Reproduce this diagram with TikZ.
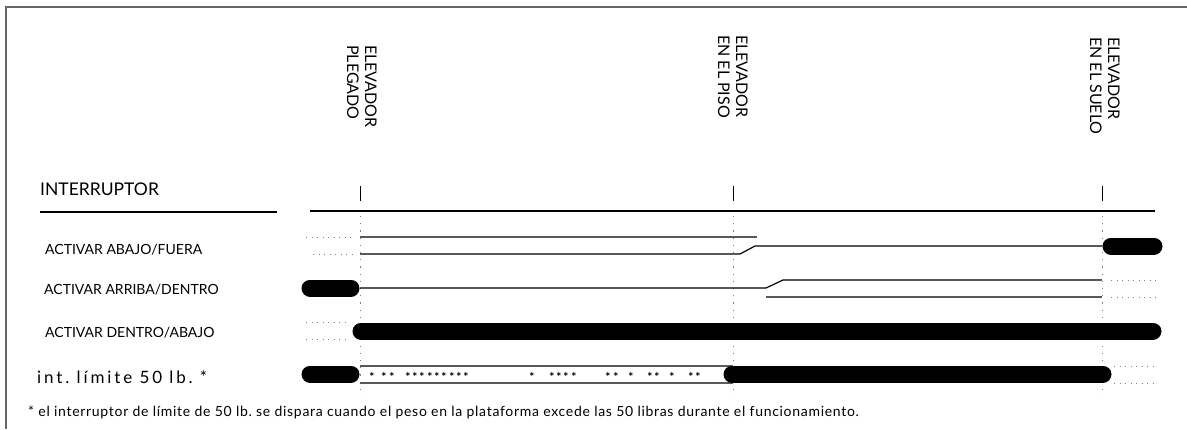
\documentclass[tikz,border=0pt]{standalone}
\usepackage{fontspec}
\setmainfont{Lato}
\frenchspacing
\begin{document}
\begin{tikzpicture}[x=1pt,y=-1pt,
  frame/.style={draw=gray!80!black,line width=2pt},
  lbl/.style={anchor=west,inner sep=0pt,font=\fontsize{14}{16}\selectfont},
  vlbl/.style={anchor=north west,inner sep=0pt,rotate=-90,align=left,font=\fontsize{16}{18}\selectfont},
  bar/.style={line width=17pt,line cap=round},
  sig/.style={draw=gray!70!black,line width=1.2pt},
  sigb/.style={draw=black,line width=1.2pt},
  dots/.style={draw=gray,line width=0.9pt,dash pattern=on 1pt off 4.5pt},
  vdots/.style={draw=gray,line width=1pt,dash pattern=on 1.2pt off 6pt},
  star/.style={inner sep=0pt,font=\fontsize{12}{12}\bfseries\selectfont}]
\useasboundingbox (0,0) rectangle (1187,429);
\fill[white] (0,0) rectangle (1187,429);
% frame
\draw[frame] (1187,7) -- (6,7) -- (6,429);
% vertical labels
\node[vlbl] (e1) at (377,45) {ELEVADOR\\PLEGADO};
\node[vlbl] (e2) at (748,35) {ELEVADOR\\EN EL PISO};
\node[vlbl] (e3) at (1120,37) {ELEVADOR\\EN EL SUELO};
% header
\node[lbl,anchor=base west,font=\fontsize{17.5}{19}\selectfont] (hdr) at (40,195) {INTERRUPTOR};
\draw[line width=2.2pt] (40,212) -- (277,212);
\draw[line width=2.2pt] (310,211) -- (1155,211);
\foreach \x in {360,733,1102}{
  \draw[line width=0.8pt] (\x,186) -- (\x,201);
  \draw[vdots] (\x,216) -- (\x,396);
}
% row labels
\node[lbl] (r1) at (45,250) {ACTIVAR ABAJO/FUERA};
\node[lbl] (r2) at (44,290) {ACTIVAR ARRIBA/DENTRO};
\node[lbl] (r3) at (45,333) {ACTIVAR DENTRO/ABAJO};
\node[lbl,font=\fontsize{17}{18}\selectfont\addfontfeature{LetterSpace=17}] (r4) at (37,377) {int. límite 50 lb. *};
% row 1
\draw[dots] (306,237) -- (352,237);
\draw[dots] (313,254) -- (352,254);
\draw[sig] (360,237) -- (757,237);
\draw[sig] (360,254) -- (740,254);
\draw[sigb] (740,254) -- (755,246) -- (1102,246);
\draw[bar] (1111,246) -- (1154,246);
% row 2
\draw[bar] (310,288) -- (351,288);
\draw[sigb] (360,288) -- (766,288) -- (783,280);
\draw[sig] (783,280) -- (1102,280);
\draw[sig] (766,297) -- (1102,297);
\draw[dots] (1111,280) -- (1156,280);
\draw[dots] (1111,297) -- (1156,297);
% row 3
\draw[dots] (306,322) -- (350,322);
\draw[dots] (306,339) -- (350,339);
\draw[bar] (361,331) -- (1153,331);
% row 4
\draw[bar] (310,374) -- (351,374);
\draw[sig] (360,366) -- (733,366);
\draw[sig] (360,383) -- (733,383);
\foreach \x in {372,384,392,408,415,422,430,437,444,452,459,466,532,552,559,566,574,608,616,631,650,657,672,691,698}{
  \node[star] at (\x,377) {*};
}
\draw[bar] (732,374) -- (1103,374);
\draw[dots] (1114,366) -- (1156,366);
\draw[dots] (1114,383) -- (1156,383);
% footnote
\node[lbl,font=\fontsize{14}{15}\selectfont\addfontfeature{LetterSpace=5}] (fn) at (28,412) {* el interruptor de límite de 50 lb. se dispara cuando el peso en la plataforma excede las 50 libras durante el funcionamiento.};
\end{tikzpicture}
\end{document}
